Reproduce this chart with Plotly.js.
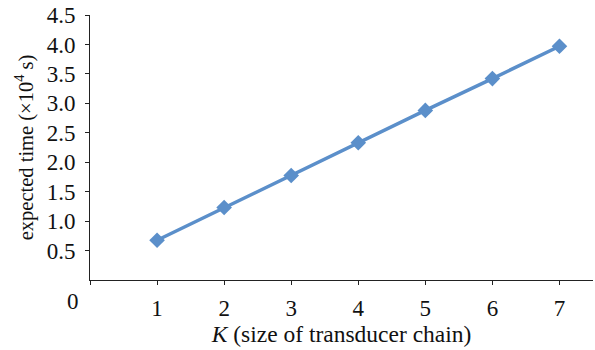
<!DOCTYPE html>
<html>
<head>
<meta charset="utf-8">
<script src="https://cdn.plot.ly/plotly-3.0.1.min.js"></script>
<style>html,body{margin:0;padding:0;background:#fff;}#chart{width:595px;height:350px;}</style>
</head>
<body>
<div id="chart"></div>
<script>
const chainSizes = [1, 2, 3, 4, 5, 6, 7];
const expectedTime = [0.675, 1.23, 1.775, 2.33, 2.88, 3.42, 3.97];
const xTickVals = [0, 1, 2, 3, 4, 5, 6, 7];
const xTickText = ['', '1', '2', '3', '4', '5', '6', '7'];
const yTickVals = [0.5, 1.0, 1.5, 2.0, 2.5, 3.0, 3.5, 4.0, 4.5];
const yTickText = ['0.5', '1.0', '1.5', '2.0', '2.5', '3.0', '3.5', '4.0', '4.5'];

const blue = '#5B8FCA';
const tickFont = {family: 'Liberation Serif', size: 23, color: '#111'};
const xTitleFont = {family: 'Liberation Serif', size: 23.5, color: '#111'};
const yTitleFont = {family: 'Liberation Serif', size: 20.5, color: '#111'};

Plotly.newPlot('chart', [{
  x: chainSizes,
  y: expectedTime,
  type: 'scatter',
  mode: 'lines+markers',
  line: {color: blue, width: 3.5},
  marker: {symbol: 'diamond', size: 12, color: blue},
  hoverinfo: 'skip'
}], {
  width: 595, height: 350,
  margin: {l: 90, r: 2, t: 15, b: 70},
  paper_bgcolor: '#fff', plot_bgcolor: '#fff',
  font: tickFont,
  showlegend: false,
  xaxis: {
    range: [0, 7.5],
    tickvals: xTickVals, ticktext: xTickText,
    ticks: 'outside', ticklen: 4, tickcolor: '#222', tickwidth: 1,
    showline: true, linecolor: '#222', linewidth: 1,
    showgrid: false, zeroline: false,
    tickfont: tickFont,
    ticklabelstandoff: 3,
    title: {text: '<i>K</i> (size of transducer chain)', font: xTitleFont, standoff: 3}
  },
  yaxis: {
    range: [0, 4.5],
    tickvals: yTickVals, ticktext: yTickText,
    ticks: 'outside', ticklen: 4, tickcolor: '#222', tickwidth: 1,
    showline: true, linecolor: '#222', linewidth: 1,
    showgrid: false, zeroline: false,
    tickfont: tickFont,
    ticklabelstandoff: 5,
    title: {text: 'expected time (×10<sup>4</sup> s)', font: yTitleFont, standoff: 7}
  },
  annotations: [{
    text: '0', xref: 'x', yref: 'y', x: 0, y: 0,
    xanchor: 'center', yanchor: 'top', xshift: -17, yshift: -7,
    showarrow: false, font: tickFont
  }]
}, {staticPlot: true});
</script>
</body>
</html>
